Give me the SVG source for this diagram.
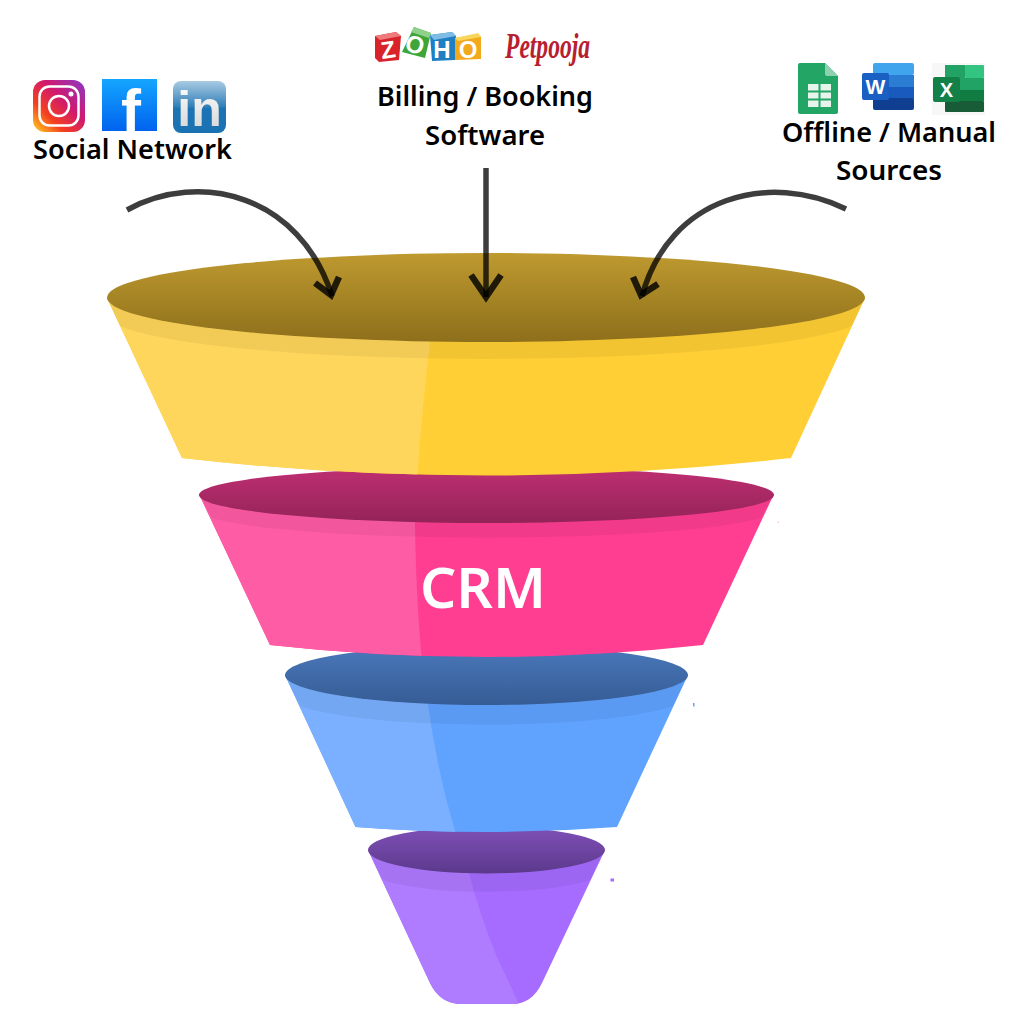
<svg xmlns="http://www.w3.org/2000/svg" width="1024" height="1024" viewBox="0 0 1024 1024">
<style>
.lbl{font-family:"Noto Sans",Inter,"Liberation Sans",sans-serif;font-weight:600;font-size:27px;fill:#000;text-anchor:middle}
.band{fill:#000;fill-opacity:.05}
.arrow{fill:none;stroke:#000;stroke-opacity:.76;stroke-width:5.5}
.head{fill:none;stroke:#000;stroke-opacity:.82;stroke-width:6.500}
.logo{font-family:"Liberation Sans",sans-serif;font-weight:700;text-anchor:middle;fill:#fff}
</style>
<defs>
<linearGradient id="gy" x1="0" y1="0" x2="0" y2="1"><stop offset="0" stop-color="#BE9A2F"/><stop offset="1" stop-color="#8E6F1B"/></linearGradient>
<linearGradient id="gp" x1="0" y1="0" x2="0" y2="1"><stop offset="0" stop-color="#BF2F72"/><stop offset="1" stop-color="#942358"/></linearGradient>
<linearGradient id="gb" x1="0" y1="0" x2="0" y2="1"><stop offset="0" stop-color="#4A79BC"/><stop offset="1" stop-color="#365C95"/></linearGradient>
<linearGradient id="gv" x1="0" y1="0" x2="0" y2="1"><stop offset="0" stop-color="#7F50B8"/><stop offset="1" stop-color="#5C398C"/></linearGradient>
<linearGradient id="ig" x1="0" y1="1" x2="1" y2="0"><stop offset="0" stop-color="#FFD521"/><stop offset=".3" stop-color="#F5401F"/><stop offset=".6" stop-color="#D0186F"/><stop offset="1" stop-color="#8A3AC8"/></linearGradient>
<linearGradient id="fb" x1="0" y1="0" x2="0" y2="1"><stop offset="0" stop-color="#15A6FF"/><stop offset="1" stop-color="#0062EE"/></linearGradient>
<linearGradient id="li" x1="0" y1="0" x2="0" y2="1"><stop offset="0" stop-color="#A9CBE2"/><stop offset=".5" stop-color="#2F7FB8"/><stop offset=".52" stop-color="#1C74B4"/><stop offset="1" stop-color="#1B72B2"/></linearGradient>
<linearGradient id="lt" x1="0" y1="0" x2="0" y2="1"><stop offset="0" stop-color="#fff"/><stop offset="1" stop-color="#D2D2D2"/></linearGradient>
<clipPath id="cy"><path d="M107 298L182 458Q486 493 791 458L865 298Z"/></clipPath>
<clipPath id="cp"><path d="M199 494L270 645Q486 669 703 645L774 494Z"/></clipPath>
<clipPath id="cb"><path d="M285 675L355.500 827Q486 837 617 827L688 675Z"/></clipPath>
<clipPath id="cv"><path d="M368 850L430 983Q440 1004 462 1004L512 1004Q532 1004 542 983L605 850Z"/></clipPath>
</defs>
<rect width="1024" height="1024" fill="#fff"/>

<g id="funnel-purple">
<path d="M368 850L430 983Q440 1004 462 1004L512 1004Q532 1004 542 983L605 850Z" fill="#A66CFF"/>
<path clip-path="url(#cv)" d="M360 840H469V873Q478 910 497 957Q510 985 520 1006H360Z" fill="#AF7BFF"/>
<path class="band" d="M368 850L383 880A118.500 23 0 0 0 590 880L605 850Z"/>
<ellipse cx="486.500" cy="850" rx="118.500" ry="23.500" fill="url(#gv)"/>
</g>

<g id="funnel-blue">
<path d="M285 675L355.500 827Q486 837 617 827L688 675Z" fill="#60A3FF"/>
<path clip-path="url(#cb)" d="M280 670H428V705Q438 775 456 834H280Z" fill="#7AB0FF"/>
<path class="band" d="M285 675L300 706A201.500 30 0 0 0 673 706L688 675Z"/>
<ellipse cx="486.500" cy="675" rx="201.500" ry="30" fill="url(#gb)"/>
</g>

<g id="funnel-pink">
<path d="M199 494L270 645Q486 669 703 645L774 494Z" fill="#FF3E92"/>
<path clip-path="url(#cp)" d="M190 490H415V523Q416 600 422 660H190Z" fill="#FF5CA6"/>
<path class="band" d="M199 494L212 518A287.500 28 0 0 0 761 518L774 494Z"/>
<ellipse cx="486.500" cy="495" rx="287.500" ry="28" fill="url(#gp)"/>
<text id="crm" x="483" y="608" font-family="'Noto Sans',Inter,'Liberation Sans',sans-serif" font-weight="600" font-size="56" fill="#fff" text-anchor="middle" textLength="126" lengthAdjust="spacingAndGlyphs">CRM</text>
</g>

<g id="funnel-yellow">
<path d="M107 298L182 458Q486 493 791 458L865 298Z" fill="#FFCF35"/>
<path clip-path="url(#cy)" d="M100 290H430V342Q422 410 417 480H100Z" fill="#FFD65C"/>
<path class="band" d="M107 298L120 326A379 44.500 0 0 0 852 326L865 298Z"/>
<ellipse cx="486" cy="297.500" rx="379" ry="44.500" fill="url(#gy)"/>
</g>

<g id="specks">
<rect x="693" y="703" width="1.500" height="3.500" fill="#60A3FF"/>
<rect x="610.500" y="878.500" width="3.500" height="3" fill="#A66CFF"/>
<rect x="777.500" y="521.500" width="1.500" height="1.500" fill="#FFC4DE"/>
</g>

<g id="connectors">
<g class="arrow">
<path d="M127 210C200 170 300 195 332 296"/>
<path d="M486 168V297"/>
<path d="M846 209C770 172 670 195 642 296"/>
</g>
<g class="head">
<path d="M315 283L331 295L339 277"/>
<path d="M471 275L486 297L501 275"/>
<path d="M633 277L641 295L658 284"/>
</g>
</g>

<g id="social-network">
<rect x="33" y="80" width="52" height="52" rx="12" fill="url(#ig)"/>
<rect x="39.500" y="86.500" width="39" height="39" rx="10" fill="none" stroke="#fff" stroke-width="2.500"/>
<circle cx="59" cy="106" r="10" fill="none" stroke="#fff" stroke-width="2.500"/>
<circle cx="71" cy="94" r="2.500" fill="#fff"/>
<rect x="102" y="79" width="55" height="52" fill="url(#fb)"/>
<text class="logo" x="131" y="131" font-size="60">f</text>
<rect x="173" y="81" width="53" height="52" rx="8" fill="url(#li)"/>
<text x="199.500" y="126" font-family="Liberation Sans,sans-serif" font-weight="700" font-size="50" fill="url(#lt)" text-anchor="middle">in</text>
<text class="lbl" x="132.500" y="159" textLength="199" lengthAdjust="spacingAndGlyphs">Social Network</text>
</g>

<g id="billing-software">
<g font-family="Liberation Sans,sans-serif" font-weight="700" font-size="24" fill="#fff" text-anchor="middle">
<path d="M375 36L396 32L401 36L399 60L379 62L375 58Z" fill="#D8232A"/><path d="M375 36L396 32L401 36L380 40Z" fill="#EE7C7C"/>
<text x="388" y="58" transform="rotate(-8 388 48)">Z</text>
<path d="M414 27L431 33L425 58L402 52Z" fill="#3EA53A"/><path d="M414 27L431 33L429 38L411 32Z" fill="#8FD18B"/>
<text x="415" y="53" transform="rotate(15 415 44)">O</text>
<path d="M430 35L452 32L456 36L455 60L432 61Z" fill="#1E7FC2"/><path d="M430 35L452 32L456 36L434 40Z" fill="#7FBDE6"/>
<text x="442" y="58">H</text>
<path d="M455 38L478 34L481 37L481 59L455 60Z" fill="#F2A91C"/><path d="M455 38L478 33L481 37L458 41Z" fill="#F7D65C"/>
<text x="468" y="58">O</text>
</g>
<text x="505" y="58" font-family="Liberation Serif,serif" font-style="italic" font-weight="700" font-size="35" fill="#B8202F" textLength="85" lengthAdjust="spacingAndGlyphs">Petpooja</text>
<text class="lbl" x="485" y="106" textLength="216" lengthAdjust="spacingAndGlyphs">Billing / Booking</text>
<text class="lbl" x="485" y="145" textLength="120" lengthAdjust="spacingAndGlyphs">Software</text>
</g>

<g id="offline-sources">
<path d="M798 65Q798 63 800 63H825L838 76V112Q838 114 836 114H800Q798 114 798 112Z" fill="#23A566"/>
<path d="M825 63L838 76H827Q825 76 825 74Z" fill="#8ED1B1"/>
<g fill="#E6F4EC"><rect x="808" y="84" width="10.500" height="6.500"/><rect x="820.500" y="84" width="10.500" height="6.500"/><rect x="808" y="92.500" width="10.500" height="6"/><rect x="820.500" y="92.500" width="10.500" height="6"/><rect x="808" y="100.500" width="10.500" height="6.500"/><rect x="820.500" y="100.500" width="10.500" height="6.500"/></g>
<rect x="873" y="63" width="41" height="12" rx="2" fill="#41A5EE"/>
<rect x="873" y="75" width="41" height="12" fill="#2B7CD3"/>
<rect x="873" y="87" width="41" height="12" fill="#185ABD"/>
<rect x="873" y="98" width="41" height="12" rx="2" fill="#103F91"/>
<rect x="862" y="73" width="27" height="27" rx="2" fill="#1A5FC2"/>
<text class="logo" x="875.500" y="94" font-size="21" font-weight="400">W</text>
<rect x="932" y="63" width="53" height="52" fill="#F7F7F7"/>
<rect x="945" y="65" width="20" height="13" fill="#21A366"/>
<rect x="965" y="65" width="19" height="13" rx="1" fill="#33C481"/>
<rect x="945" y="78" width="39" height="12" fill="#21A366"/>
<rect x="945" y="90" width="39" height="11" fill="#107C41"/>
<rect x="945" y="101" width="39" height="11" rx="1" fill="#185C37"/>
<rect x="933" y="77" width="27" height="25" rx="2" fill="#138048"/>
<text class="logo" x="946.500" y="97" font-size="20" font-weight="400">X</text>
<text class="lbl" x="889" y="142" textLength="214" lengthAdjust="spacingAndGlyphs">Offline / Manual</text>
<text class="lbl" x="889" y="180" textLength="106" lengthAdjust="spacingAndGlyphs">Sources</text>
</g>
</svg>
